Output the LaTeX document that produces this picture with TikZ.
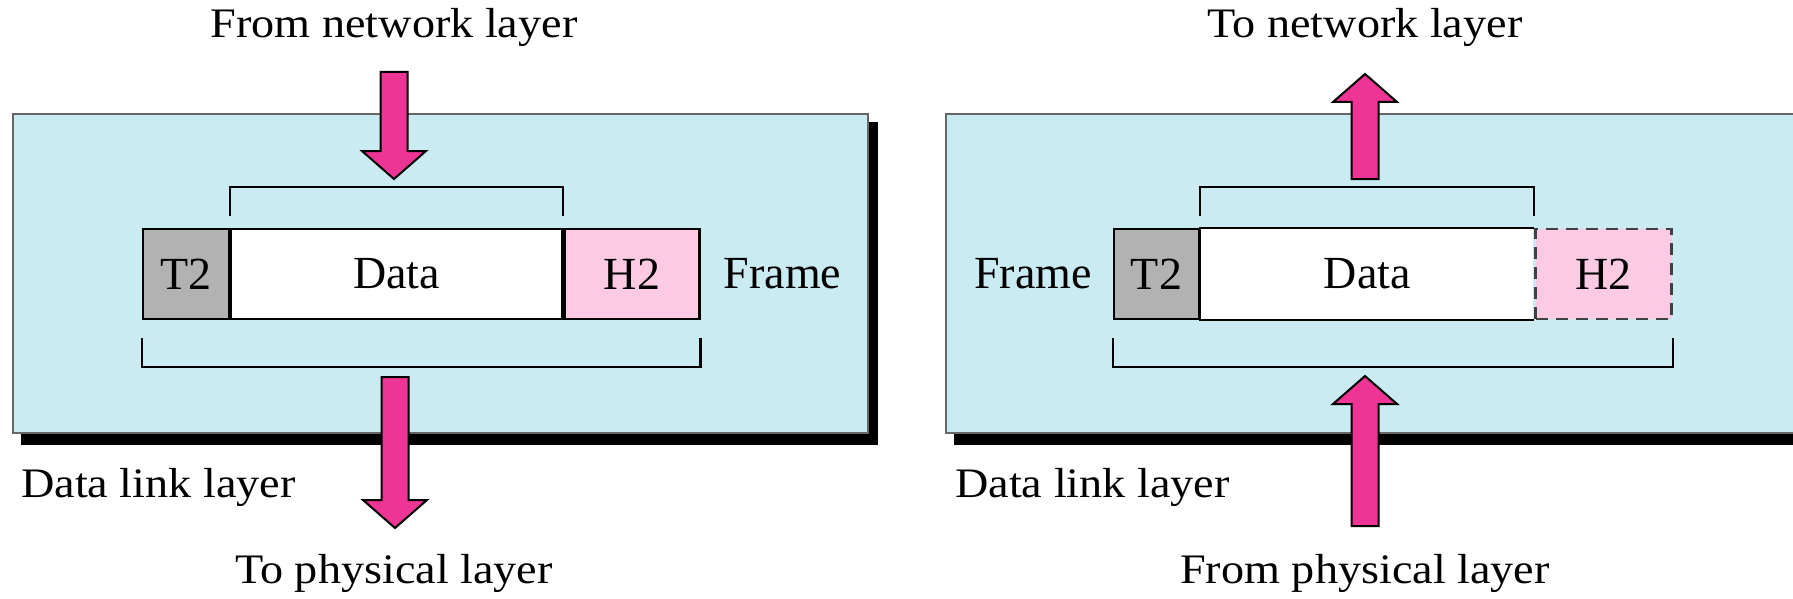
\documentclass[tikz,border=0pt]{standalone}
\usepackage{fontspec}
\setmainfont{Liberation Serif}
\usetikzlibrary{positioning,calc}
\definecolor{panelcyan}{RGB}{202,235,242}
\definecolor{arrpink}{RGB}{238,52,148}
\definecolor{hdrpink}{RGB}{253,202,228}
\definecolor{trlgray}{RGB}{178,178,178}
\tikzset{
  panel/.style  = { fill=panelcyan, draw=black!60, line width=2.2pt },
  shade/.style  = { fill=black },
  fld/.style    = { draw, line width=2.2pt, minimum height=90pt, inner sep=0pt,
    font=\fontsize{46}{50}\selectfont },
  frm/.style    = { inner sep=0pt, font=\fontsize{46}{50}\selectfont },
  brk/.style    = { line width=2.2pt },
  fatarr/.style = { fill=arrpink, draw=black, line width=2pt, line join=miter },
  lbl/.style    = { inner sep=0pt, font=\fontsize{42}{48}\selectfont, xscale=1.1, transform shape }
}
% fat block arrow from tail #1 to tip #2 (vertical only)
\newcommand{\fatarrow}[2]{%
  \draw[fatarr] let \p1=(#1), \p2=(#2), \n1={sign(\y2-\y1)} in
    (\x1-13.5pt,\y1) -- (\x1-13.5pt,\y2-\n1*28pt) -- (\x1-32pt,\y2-\n1*28pt) -- (\x2,\y2)
    -- (\x1+32pt,\y2-\n1*28pt) -- (\x1+13.5pt,\y2-\n1*28pt) -- (\x1+13.5pt,\y1) -- cycle;}

\begin{document}
\begin{tikzpicture}[x=1pt,y=1pt]
    \useasboundingbox (0,0) rectangle (1793,-599);
    \clip (0,0) rectangle (1793,-599);

    % sender side
    \draw[shade] (21,-122) rectangle (877,-444);
    \draw[panel] (13,-114) rectangle (868,-433);
    \node[fld, fill=trlgray, minimum width=86pt] (t2l) at (186,-274) {T2};
    \node[fld, fill=white, minimum width=331pt, right=0pt of t2l] (dl) {Data};
    \node[fld, fill=hdrpink, minimum width=135pt, right=0pt of dl] (h2l) {H2};
    \node[frm, right=23pt of h2l] (frl) {Frame};
    \draw[brk] ([yshift=12pt]dl.north west) -- ++(0,29) -| ([yshift=12pt]dl.north east);
    \draw[brk] ([yshift=-18pt]t2l.south west) -- ++(0,-29) -| ([yshift=-18pt]h2l.south east);
    \node[lbl, anchor=base] (fromnet) at (394,-38) {From network layer};
    \node[lbl, anchor=base] (tophy) at (394,-583) {To physical layer};
    \node[lbl, anchor=base west] (dlll) at (21,-497) {Data link layer};
    \coordinate (a1t) at (394,-72);
    \coordinate (a1h) at (394,-179);
    \coordinate (a2t) at (395,-377);
    \coordinate (a2h) at (395,-528);
    \fatarrow{a1t}{a1h}
    \fatarrow{a2t}{a2h}

    % receiver side
    \draw[shade] (954,-122) rectangle (1810,-444);
    \draw[panel] (946,-114) rectangle (1800,-433);
    \node[fld, fill=trlgray, minimum width=85pt] (t2r) at (1156.5,-274) {T2};
    \node[fld, fill=white, draw=none, minimum width=332pt, right=0pt of t2r] (dr) {Data};
    \draw[brk] (dr.north east) -- (dr.north west) -- (dr.south west) -- (dr.south east);
    \node[fld, fill=hdrpink, draw=black!75, line width=2.6pt, dash pattern=on 12pt off 8pt,
      minimum width=136pt, right=0pt of dr] (h2r) {H2};
    \node[frm, left=21pt of t2r] (frr) {Frame};
    \draw[brk] ([yshift=12pt]dr.north west) -- ++(0,29) -| ([yshift=12pt]dr.north east);
    \draw[brk] ([yshift=-18pt]t2r.south west) -- ++(0,-29) -| ([yshift=-18pt]h2r.south east);
    \node[lbl, anchor=base] (tonet) at (1365,-38) {To network layer};
    \node[lbl, anchor=base] (fromphy) at (1365,-583) {From physical layer};
    \node[lbl, anchor=base west] (dllr) at (955,-497) {Data link layer};
    \coordinate (a3t) at (1365,-179);
    \coordinate (a3h) at (1365,-74);
    \coordinate (a4t) at (1365,-526);
    \coordinate (a4h) at (1365,-376);
    \fatarrow{a3t}{a3h}
    \fatarrow{a4t}{a4h}
  \end{tikzpicture}
\end{document}
